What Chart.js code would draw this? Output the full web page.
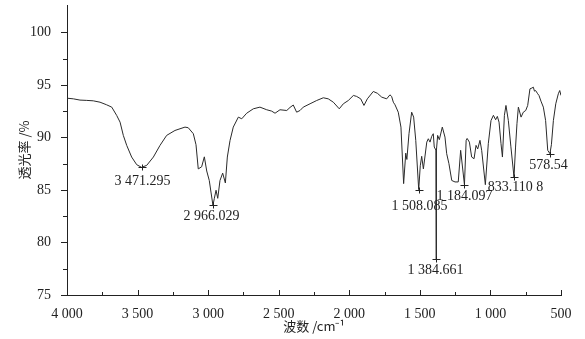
<!DOCTYPE html>
<html>
<head>
<meta charset="utf-8">
<script src="https://cdn.jsdelivr.net/npm/chart.js@4/dist/chart.umd.min.js"></script>
<style>
body { margin: 0; background: #fff; }
#wrap { width: 585px; height: 339px; }
</style>
</head>
<body>
<div id="wrap"><canvas id="ftir"></canvas></div>
<script>
// wavenumber (cm-1) and transmittance (%)
const waveNumbers = [
    4000, 3955, 3908, 3860, 3814, 3766, 3719, 3683, 3648, 3624,
    3601, 3577, 3542, 3506, 3471.3, 3435, 3388, 3341, 3294, 3235,
    3164, 3141, 3105, 3086, 3070, 3046, 3027, 3010, 2992, 2980,
    2966, 2956, 2944, 2932, 2916, 2897, 2878, 2864, 2845, 2822,
    2786, 2762, 2727, 2680, 2633, 2585, 2550, 2526, 2491, 2443,
    2420, 2397, 2373, 2349, 2326, 2278, 2231, 2184, 2149, 2113,
    2071, 2042, 2007, 1971, 1948, 1919, 1896, 1872, 1830, 1801,
    1770, 1735, 1712, 1700, 1688, 1676, 1653, 1634, 1615, 1600,
    1592, 1577, 1558, 1544, 1529, 1508.1, 1497, 1487, 1475, 1451,
    1440, 1428, 1416, 1405, 1398, 1386.5, 1384.7, 1382.5, 1374, 1362,
    1341, 1322, 1310, 1294, 1274, 1251, 1228, 1211, 1184.1, 1172,
    1165, 1149, 1133, 1116, 1102, 1090, 1074, 1062, 1036, 1015,
    996, 979, 963, 951, 939, 925, 915, 901, 890, 873,
    855, 833.1, 822, 812, 802, 783, 767, 750, 736, 720,
    706, 696, 688, 680, 665, 656, 642, 625, 609, 594,
    578.5, 568, 554, 537, 519, 509, 500
];
const transmittance = [
    93.73, 93.67, 93.55, 93.52, 93.48, 93.35, 93.10, 92.88, 92.09, 91.45,
    90.19, 89.24, 88.13, 87.40, 87.15, 87.34, 88.13, 89.24, 90.19, 90.66,
    90.98, 90.92, 90.35, 89.30, 87.00, 87.20, 88.15, 86.80, 85.90, 84.80,
    83.54, 84.20, 84.97, 84.20, 85.90, 86.60, 85.66, 88.13, 89.70, 90.98,
    91.93, 91.77, 92.30, 92.72, 92.88, 92.63, 92.50, 92.30, 92.63, 92.56,
    92.85, 93.08, 92.40, 92.56, 92.88, 93.20, 93.51, 93.77, 93.67, 93.35,
    92.72, 93.20, 93.51, 93.99, 93.90, 93.67, 93.04, 93.67, 94.37, 94.20,
    93.83, 93.67, 94.05, 93.90, 93.35, 93.10, 92.40, 90.98, 85.60, 88.50,
    87.90, 90.35, 92.40, 91.93, 89.72, 85.03, 87.30, 88.20, 87.00, 89.55,
    89.87, 89.55, 90.10, 90.35, 89.08, 88.80, 78.40, 88.80, 90.19, 89.78,
    90.98, 90.03, 88.45, 87.50, 85.90, 85.76, 85.76, 88.77, 85.50, 89.72,
    89.90, 89.55, 88.13, 87.97, 89.24, 88.90, 89.72, 88.77, 85.50, 89.40,
    91.60, 92.10, 91.68, 92.00, 91.45, 89.40, 88.13, 92.10, 93.04, 91.60,
    89.10, 86.23, 89.08, 91.30, 92.88, 91.93, 92.40, 92.56, 93.04, 94.62,
    94.70, 94.78, 94.40, 94.46, 94.15, 93.99, 93.45, 92.88, 91.60, 88.77,
    88.45, 89.30, 91.60, 93.20, 94.15, 94.46, 93.99
];

// marked absorption peaks
const peakWaves = [3471.295, 2966.029, 1508.085, 1384.661, 1184.097, 833.1108, 578.54];
const peakValues = [87.15, 83.54, 85.03, 78.40, 85.50, 86.23, 88.45];
const peakLabels = ['3 471.295', '2 966.029', '1 508.085', '1 384.661', '1 184.097', '833.110 8', '578.54'];
// label offset from the marker, px
const labelOffsets = [[0, 14], [-2, 11], [0, 16], [-1, 11], [0, 11], [1, 10], [-2, 11]];

const xTicks = [4000, 3750, 3500, 3250, 3000, 2750, 2500, 2250, 2000, 1750, 1500, 1250, 1000, 750, 500];
const yTicks = [75, 77.5, 80, 82.5, 85, 87.5, 90, 92.5, 95, 97.5, 100];

const INK = '#222';
Chart.defaults.font.family = "'Liberation Serif', 'Times New Roman', serif";
Chart.defaults.font.size = 14;
Chart.defaults.color = INK;

function fmtWave(v) {
    if (v >= 1000) return Math.floor(v / 1000) + ' ' + String(v % 1000).padStart(3, '0');
    return String(v);
}

// axis ticks: x ticks point inward, y ticks point outward
const tickMarks = {
    id: 'tickMarks',
    afterDraw(chart) {
        const ctx = chart.ctx;
        const xs = chart.scales.x, ys = chart.scales.y;
        const a = chart.chartArea;
        ctx.save();
        ctx.strokeStyle = INK;
        ctx.lineWidth = 1;
        ctx.beginPath();
        xTicks.forEach(v => {
            const px = Math.round(xs.getPixelForValue(v)) + 0.5;
            const len = v % 500 === 0 ? 5 : 3;
            ctx.moveTo(px, a.bottom);
            ctx.lineTo(px, a.bottom - len);
        });
        yTicks.forEach(v => {
            const py = Math.round(ys.getPixelForValue(v)) + 0.5;
            const len = v % 5 === 0 ? 6 : 4;
            ctx.moveTo(a.left, py);
            ctx.lineTo(a.left - len, py);
        });
        ctx.stroke();
        ctx.restore();
    }
};

const peakMarks = {
    id: 'peakMarks',
    afterDatasetsDraw(chart) {
        const ctx = chart.ctx;
        const xs = chart.scales.x, ys = chart.scales.y;
        ctx.save();
        ctx.strokeStyle = INK;
        ctx.fillStyle = INK;
        ctx.lineWidth = 1;
        ctx.font = "14px 'Liberation Serif', serif";
        ctx.textAlign = 'center';
        ctx.textBaseline = 'middle';
        peakWaves.forEach((w, i) => {
            const px = Math.round(xs.getPixelForValue(w)) + 0.5;
            const py = Math.round(ys.getPixelForValue(peakValues[i])) + 0.5;
            ctx.beginPath();
            ctx.moveTo(px - 4, py);
            ctx.lineTo(px + 4, py);
            ctx.moveTo(px, py - 3);
            ctx.lineTo(px, py + 3);
            ctx.stroke();
            ctx.fillText(peakLabels[i], px + labelOffsets[i][0], py + labelOffsets[i][1]);
        });
        ctx.restore();
    }
};

const ftir = new Chart(document.getElementById('ftir').getContext('2d'), {
    type: 'line',
    data: {
        datasets: [{
            data: waveNumbers.map((w, i) => ({ x: w, y: transmittance[i] })),
            borderColor: '#2a2a2a',
            borderWidth: 1,
            pointRadius: 0,
            tension: 0,
            fill: false,
        }],
    },
    options: {
        responsive: true,
        maintainAspectRatio: false,
        animation: false,
        layout: { padding: { top: 5, right: 24, bottom: 0, left: 0 } },
        plugins: {
            legend: { display: false },
            tooltip: { enabled: false },
        },
        scales: {
            x: {
                type: 'linear',
                reverse: true,
                min: 500,
                max: 4000,
                afterBuildTicks: s => { s.ticks = xTicks.map(v => ({ value: v })); },
                afterFit: s => { s.height = 44; },
                grid: { display: false },
                border: { display: true, color: INK, width: 1 },
                ticks: {
                    autoSkip: false,
                    maxRotation: 0,
                    padding: 3,
                    callback: v => (v % 500 === 0 ? fmtWave(v) : ''),
                },
                title: {
                    display: true,
                    text: '波数 /cm⁻¹',
                    font: { family: "'Noto Sans CJK SC', sans-serif", size: 13 },
                    padding: { top: 0, bottom: 5 },
                },
            },
            y: {
                min: 75,
                max: 102.6,
                afterBuildTicks: s => { s.ticks = yTicks.map(v => ({ value: v })); },
                afterFit: s => { s.width = 67; s.paddingTop = 0; s.paddingBottom = 0; },
                grid: { display: false },
                border: { display: true, color: INK, width: 1 },
                ticks: {
                    padding: 8,
                    callback: v => (v % 5 === 0 ? String(v) : ''),
                },
                title: {
                    display: true,
                    text: '透光率 /%',
                    font: { family: "'Noto Sans CJK SC', sans-serif", size: 13 },
                    padding: { top: 16, bottom: 0 },
                },
            },
        },
    },
    plugins: [tickMarks, peakMarks],
});
</script>
</body>
</html>
